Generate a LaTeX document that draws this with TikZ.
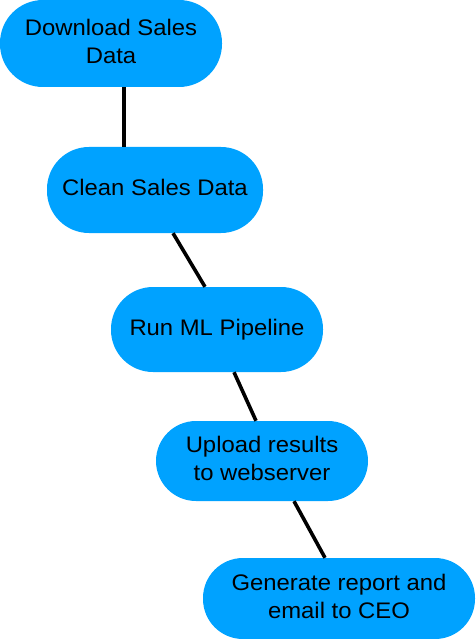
\documentclass[tikz,border=0pt]{standalone}
\usepackage{fontspec}
\usepackage{graphicx}
\setmainfont{Liberation Sans}
\definecolor{boxblue}{HTML}{00A2FF}
\newcommand{\wtext}[1]{\scalebox{1.06}[1]{\fontsize{22.5}{28}\selectfont\begin{tabular}{@{}c@{}}#1\end{tabular}}}
\begin{document}
\begin{tikzpicture}[x=1pt,y=-1pt,
  pill/.style={fill=boxblue,draw=none,rounded corners=40pt,inner sep=0pt,align=center,text=black},
  link/.style={line width=3.6pt,black}]
\useasboundingbox (0,0) rectangle (475,639);
\node[pill,rounded corners=43pt,minimum width=222pt,minimum height=87pt] (n1) at (111,43.5) {\wtext{Download Sales\\Data}};
\node[pill,rounded corners=42pt,minimum width=216pt,minimum height=86pt] (n2) at (155,190) {\wtext{Clean Sales Data}};
\node[pill,rounded corners=42pt,minimum width=212pt,minimum height=85pt] (n3) at (217,329.5) {\wtext{Run ML Pipeline}};
\node[pill,rounded corners=40pt,minimum width=212pt,minimum height=80pt] (n4) at (262,461) {\wtext{Upload results\\to webserver}};
\node[pill,rounded corners=40pt,minimum width=272pt,minimum height=81pt] (n5) at (339,598.5) {\wtext{Generate report and\\email to CEO}};
\draw[link] ([xshift=13pt]n1.south) -- ([xshift=-31pt]n2.north);
\draw[link] ([xshift=18pt]n2.south) -- ([xshift=-12pt]n3.north);
\draw[link] ([xshift=17pt]n3.south) -- ([xshift=-6pt]n4.north);
\draw[link] ([xshift=32pt]n4.south) -- ([xshift=-14pt]n5.north);
\end{tikzpicture}
\end{document}
